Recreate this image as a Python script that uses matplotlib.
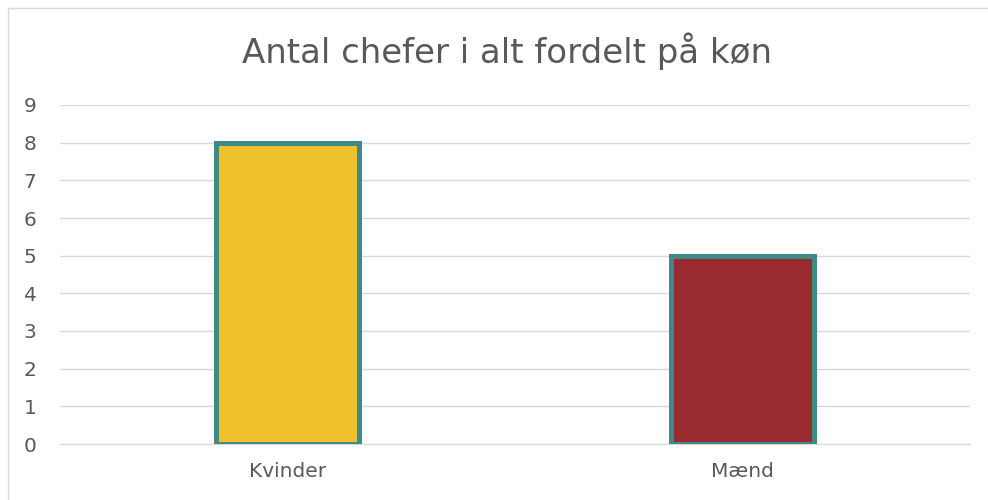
import matplotlib

matplotlib.use("Agg")
import matplotlib.pyplot as plt
from matplotlib.patches import Rectangle

categories = ["Kvinder", "Mænd"]
values = [8, 5]
bar_colors = ["#EFC22D", "#992B30"]
y_ticks = list(range(0, 10))

W, H = 988, 500
fig = plt.figure(figsize=(W / 100, H / 100), dpi=100)

# outer chart border
fig.patches.append(
    Rectangle((8 / W, -0.1), 1.1, 1 - 8 / H + 0.1, transform=fig.transFigure,
              fill=False, edgecolor="#D9D9D9", linewidth=1.0)
)

ax = fig.add_axes([60 / W, 1 - 444 / H, (970 - 60) / W, (444 - 105) / H])
ax.bar(range(len(categories)), values, width=0.315, color=bar_colors,
       edgecolor="#3E8A87", linewidth=3.6, zorder=3)
ax.set_xlim(-0.5, 1.5)
ax.set_ylim(0, 9)
ax.set_yticks(y_ticks)
ax.set_xticks(range(len(categories)))
ax.set_xticklabels(categories)
ax.grid(axis="y", color="#D9D9D9", linewidth=1.0, zorder=0)
ax.tick_params(length=0, labelsize=14.5, labelcolor="#595959")
ax.tick_params(axis="x", pad=13)
ax.tick_params(axis="y", pad=17)
for side in ["top", "right", "left"]:
    ax.spines[side].set_visible(False)
ax.spines["bottom"].set_color("#D9D9D9")
ax.set_axisbelow(True)

fig.text(507 / W, 1 - 63 / H, "Antal chefer i alt fordelt på køn", ha="center", va="baseline",
         fontsize=24.5, color="#595959", family="DejaVu Sans")

fig.savefig("out.png", dpi=100)
